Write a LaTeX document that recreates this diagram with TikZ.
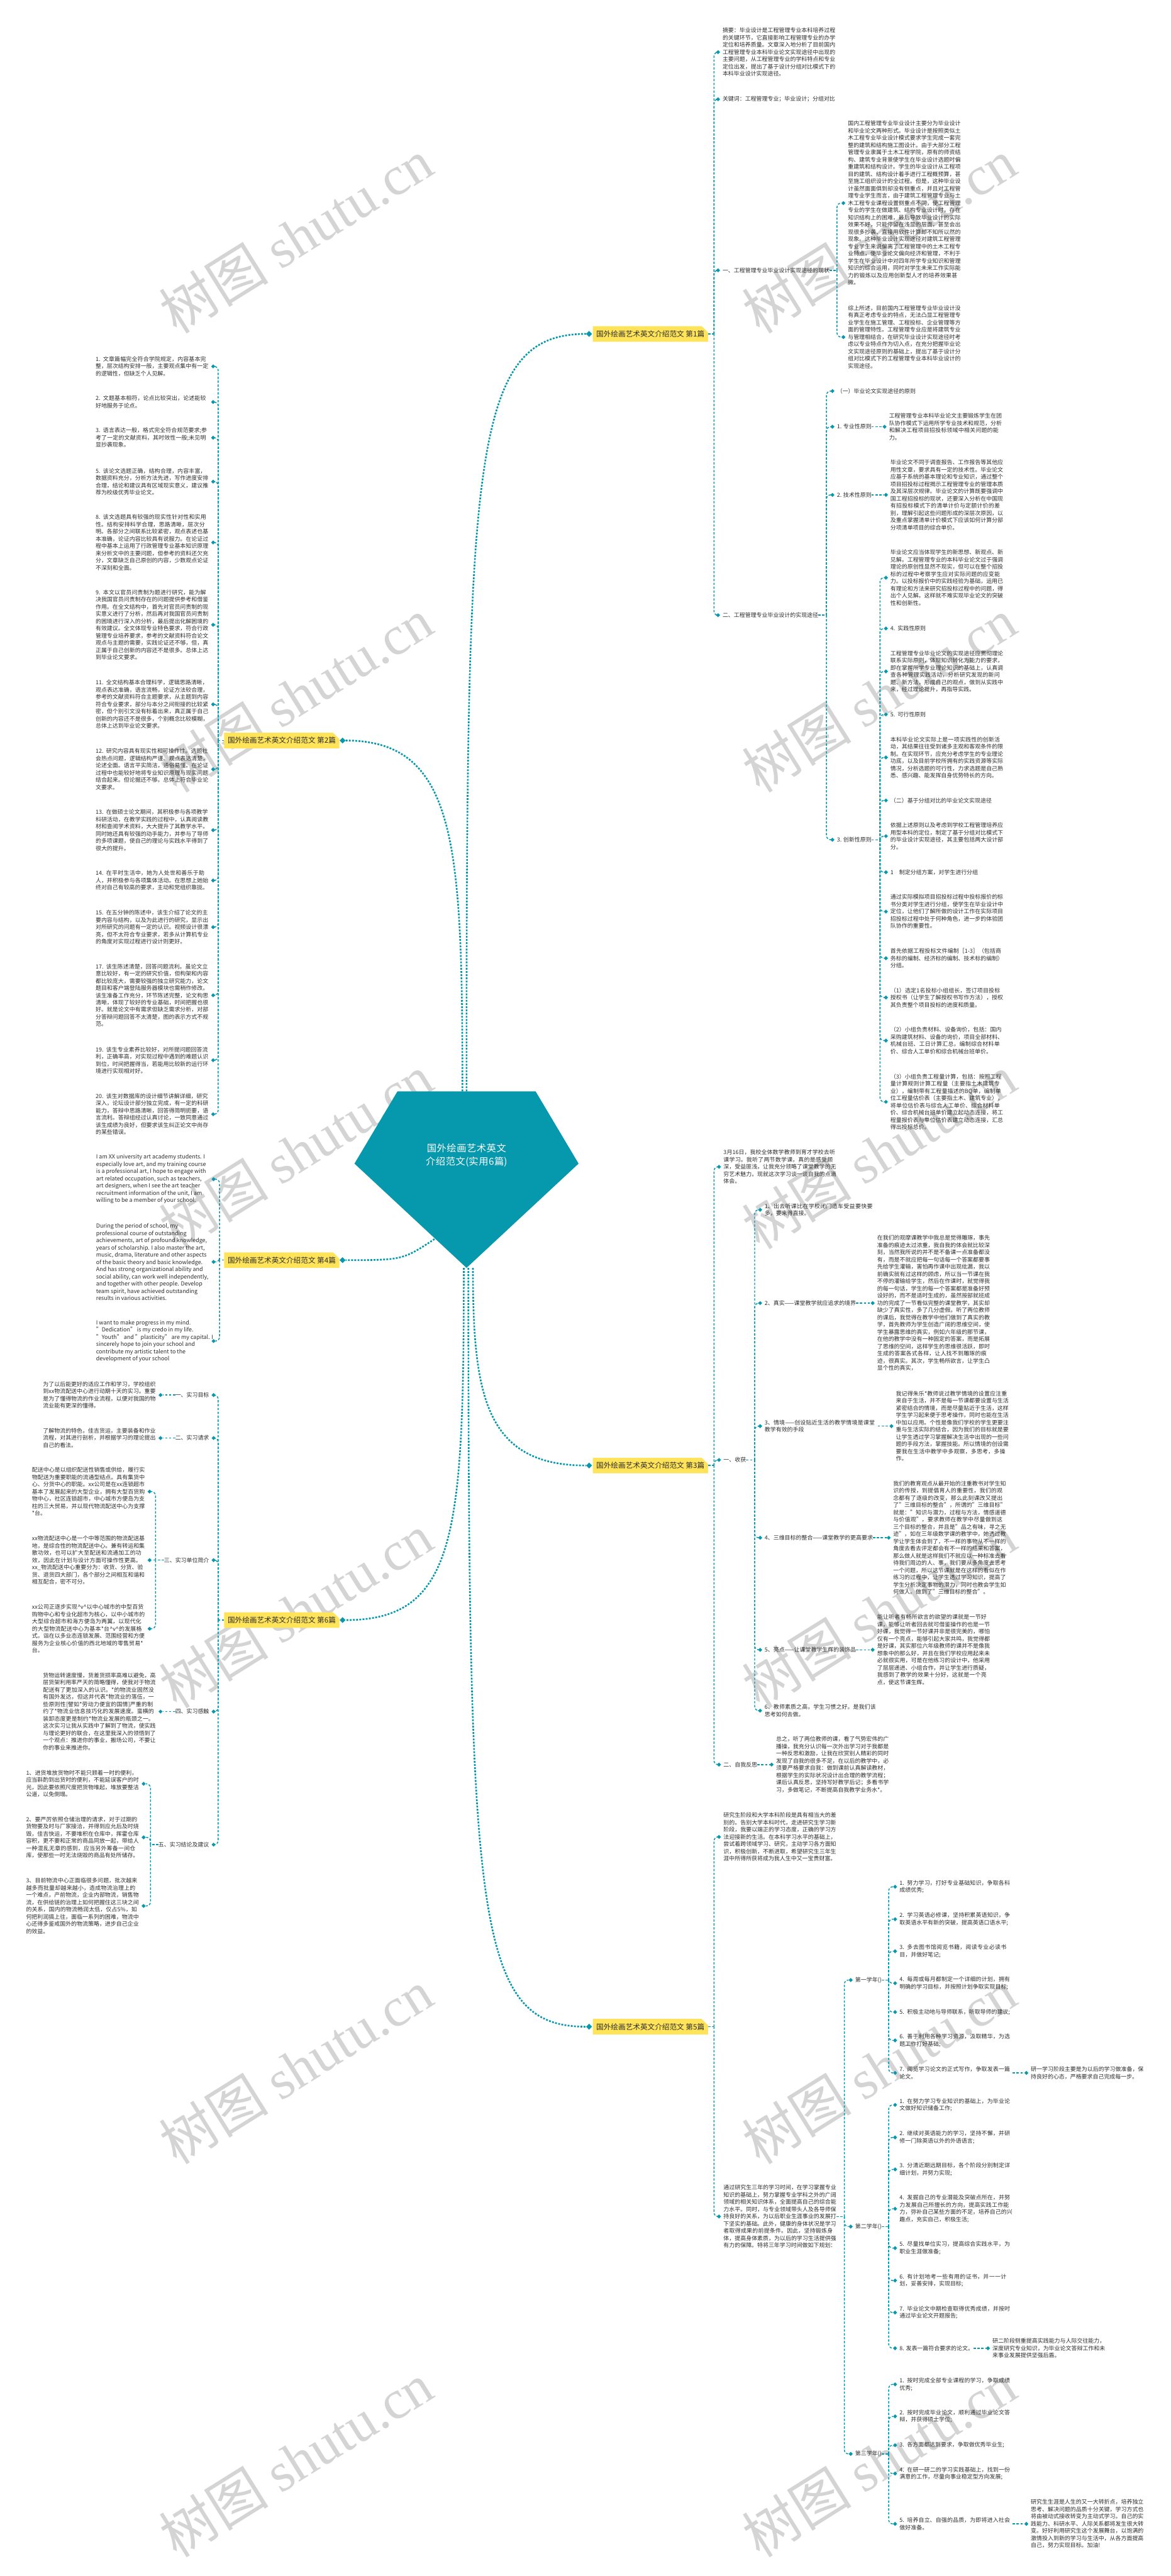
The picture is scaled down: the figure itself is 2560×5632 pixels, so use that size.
\documentclass[tikz,border=0pt]{standalone}
\usepackage{fontspec}
\setmainfont{Noto Sans CJK SC}
\newfontfamily\wmserif{Liberation Serif}
\usetikzlibrary{shapes.misc,shapes.geometric}
\XeTeXlinebreaklocale "zh"
\XeTeXlinebreakskip=0pt plus 1pt
\definecolor{tealc}{RGB}{6,152,172}
\definecolor{tagc}{RGB}{255,228,90}
\definecolor{txtc}{RGB}{45,45,45}
\newcommand\txtfont{\fontsize{12.3}{15.8}\selectfont}
\tikzset{
  conn/.style={draw=tealc, line width=2pt, dash pattern=on 5pt off 3.5pt, rounded corners=9pt},
  mconn/.style={draw=tealc, line width=3.6pt, dash pattern=on 4pt off 3pt},
  dm/.style={diamond, fill=tealc, inner sep=0pt, minimum width=9pt, minimum height=9pt},
  dmb/.style={diamond, fill=tealc, inner sep=0pt, minimum width=13pt, minimum height=13pt},
  tx/.style={font=\txtfont, text=txtc, inner sep=0pt, align=left, text width=247pt, anchor=west},
  txl/.style={tx, anchor=east},
  lb/.style={font=\txtfont, text=txtc, inner sep=0pt, anchor=west},
  lbl/.style={lb, anchor=east},
  etx/.style={font=\txtfont, text=txtc, inner sep=0pt, align=left, anchor=west},
  tag/.style={chamfered rectangle, chamfered rectangle corners=north east, chamfered rectangle xsep=7pt, chamfered rectangle ysep=7pt, fill=tagc, text=txtc, font=\fontsize{16}{19}\selectfont, minimum width=252pt, minimum height=34pt, inner sep=0pt},
  wm/.style={text=black!17, rotate=32, font=\fontsize{120}{120}\selectfont, inner sep=0pt},
}
\newcommand\nRC[5]{\node[dm] (#1d) at (#2,#3) {};\node[tx] (#1) at ([xshift=5pt]#1d.east) {#5};\draw[conn] (#4) |- (#1d.west);}
\newcommand\nRS[5]{\node[dm] (#1d) at (#2,#3) {};\node[tx] (#1) at ([xshift=5pt]#1d.east) {#5};\draw[conn] (#4) -- (#1d.west);}
\newcommand\nRL[5]{\node[dm] (#1d) at (#2,#3) {};\node[lb] (#1) at ([xshift=5pt]#1d.east) {#5};\draw[conn] (#4) |- (#1d.west);}
\newcommand\nLC[5]{\node[dm] (#1d) at (#2,#3) {};\node[txl] (#1) at ([xshift=-5pt]#1d.west) {#5};\draw[conn] (#4) |- (#1d.east);}
\newcommand\nLS[5]{\node[dm] (#1d) at (#2,#3) {};\node[txl] (#1) at ([xshift=-5pt]#1d.west) {#5};\draw[conn] (#4) -- (#1d.east);}
\newcommand\nLL[5]{\node[dm] (#1d) at (#2,#3) {};\node[lbl] (#1) at ([xshift=-5pt]#1d.west) {#5};\draw[conn] (#4) |- (#1d.east);}
\newcommand\nLE[4]{\node[dm] (#1d) at (467,#2) {};\node[etx] (#1) at (210,#2) {#4};\draw[conn] (#3) |- (#1d.east);}
\begin{document}
\begin{tikzpicture}[x=1pt,y=-1pt]
\fill[white] (0,0) rectangle (2560,5632);
\useasboundingbox (0,0) rectangle (2560,5632);
% watermarks
\foreach \i/\yy in {1/516,2/1520,3/2518,4/3522,5/4519,6/5378}{
  \node[wm] (wl\i) at (647,\yy) {树图 {\wmserif shutu.cn}};
  \node[wm] (wr\i) at (1922,\yy) {树图 {\wmserif shutu.cn}};
}
% root pentagon
\coordinate (ptl) at (869,2386);
\coordinate (ptr) at (1171,2386);
\coordinate (pr) at (1265,2544);
\coordinate (pb) at (1020,2772);
\coordinate (pl) at (775,2544);
\fill[tealc] (ptl) -- (ptr) -- (pr) -- (pb) -- (pl) -- cycle;
\node[font=\fontsize{21}{28}\selectfont, text=white, text width=236pt, align=center, inner sep=0pt] (root) at (1020,2526) {国外绘画艺术英文介绍范文(实用6篇)};
\coordinate (st1) at (1020,2386);
\coordinate (st2) at (1011,2386);
\coordinate (st4) at (950,2709);
\coordinate (st6) at (1014,2772);
\coordinate (st5) at (1024,2772);
\coordinate (st3) at (1034,2772);
% tags
\node[tag] (L1) at (1422,730) {国外绘画艺术英文介绍范文 第1篇};
\node[dmb] (D1) at (1288,730) {};
\node[tag] (L2) at (616,1619) {国外绘画艺术英文介绍范文 第2篇};
\node[dmb] (D2) at (749,1619) {};
\node[tag] (L3) at (1422,3204) {国外绘画艺术英文介绍范文 第3篇};
\node[dmb] (D3) at (1288,3204) {};
\node[tag] (L4) at (616,2755) {国外绘画艺术英文介绍范文 第4篇};
\node[dmb] (D4) at (749,2755) {};
\node[tag] (L5) at (1422,4431) {国外绘画艺术英文介绍范文 第5篇};
\node[dmb] (D5) at (1288,4431) {};
\node[tag] (L6) at (616,3542) {国外绘画艺术英文介绍范文 第6篇};
\node[dmb] (D6) at (749,3542) {};
% main connectors
\draw[mconn] (st1) .. controls (1020,1000) and (1030,730) .. (D1.west);
\draw[mconn] (st2) .. controls (1011,1850) and (1000,1619) .. (D2.east);
\draw[mconn] (st4) .. controls (880,2755) .. (D4.east);
\draw[mconn] (st6) .. controls (1014,3350) and (1000,3542) .. (D6.east);
\draw[mconn] (st3) .. controls (1034,3050) and (1060,3204) .. (D3.west);
\draw[mconn] (st5) .. controls (1024,4200) and (1040,4431) .. (D5.west);
% ===== 第1篇 =====
\coordinate (T1) at (1561,730); \draw[conn] (L1.east) -- (T1);
\nRC{a1}{1570}{114}{T1}{摘要：毕业设计是工程管理专业本科培养过程的关键环节，它直接影响工程管理专业的办学定位和培养质量。文章深入地分析了目前国内工程管理专业本科毕业论文实现途径中出现的主要问题，从工程管理专业的学科特点和专业定位出发，提出了基于设计分组对比模式下的本科毕业设计实现途径。}
\nRL{a2}{1570}{217}{T1}{关键词：工程管理专业；毕业设计；分组对比}
\nRL{a3}{1570}{591}{T1}{一、工程管理专业毕业设计实现途径的现状}
\nRL{a4}{1570}{1345}{T1}{二、工程管理专业毕业设计的实现途径}
\coordinate (Ta3) at (1830,591); \draw[conn] (a3.east) -- (Ta3);
\nRC{b1}{1844}{444}{Ta3}{国内工程管理专业毕业设计主要分为毕业设计和毕业论文两种形式。毕业设计是按照类似土木工程专业毕业设计模式要求学生完成一套完整的建筑和结构施工图设计。由于大部分工程管理专业隶属于土木工程学院，原有的师资结构、建筑专业背景使学生在毕业设计选题时偏重建筑和结构设计。学生的毕业设计从工程项目的建筑、结构设计着手进行工程概预算，甚至施工组织设计的全过程。但是，这种毕业设计虽然面面俱到却没有侧重点，并且对工程管理专业学生而言，由于建筑工程管理专业与土木工程专业课程设置侧重点不同，使工程管理专业的学生在做建筑、结构专业设计时，存在知识结构上的困难，最后导致毕业设计的实际效果不好，只能停留在浅显的层面，甚至会出现很多抄袭、直接用软件计算却不知所以然的现象。这种毕业设计实现途径对建筑工程管理专业学生来说偏离了工程管理中的土木工程专业特点，使毕业论文偏向经济和管理，不利于学生在毕业设计中对四年所学专业知识和管理知识的综合运用，同时对学生未来工作实际能力的锻炼以及应用创新型人才的培养效果甚微。}
\nRC{b2}{1844}{737}{Ta3}{综上所述，目前国内工程管理专业毕业设计没有真正考虑专业的特点，无法凸显工程管理专业学生在施工管理、工程投标、企业管理等方面的管理特性。工程管理专业应是将建筑专业与管理相结合，在研究毕业设计实现途径时考虑以专业特点作为切入点，在充分把握毕业论文实现途径原则的基础上，提出了基于设计分组对比模式下的工程管理专业本科毕业设计的实现途径。}
\coordinate (Ta4) at (1807,1345); \draw[conn] (a4.east) -- (Ta4);
\nRL{c1}{1820}{855}{Ta4}{（一）毕业论文实现途径的原则}
\nRL{c2}{1820}{933}{Ta4}{1. 专业性原则}
\nRL{c3}{1820}{1082}{Ta4}{2. 技术性原则}
\nRL{c4}{1820}{1836}{Ta4}{3. 创新性原则}
\nRS{c2t}{1934}{933}{c2.east}{工程管理专业本科毕业论文主要锻炼学生在团队协作模式下运用所学专业技术和规范，分析和解决工程项目招投标领域中相关问题的能力。}
\nRS{c3t}{1937}{1082}{c3.east}{毕业论文不同于调查报告、工作报告等其他应用性文章，要求具有一定的技术性。毕业论文应基于系统的基本理论和专业知识，通过整个项目招投标过程揭示工程管理专业的管理本质及其深层次规律。毕业论文的计算既要强调中国工程招投标的现状，还要深入分析在中国现有招投标模式下的清单计价与定额计价的差别，理解引起这些问题形成的深层次原因，以及重点掌握清单计价模式下应该如何计算分部分项清单项目的综合单价。}
\coordinate (Tc4) at (1924,1836); \draw[conn] (c4.east) -- (Tc4);
\nRC{e1}{1937}{1263}{Tc4}{毕业论文应当体现学生的新思想、新观点、新见解。工程管理专业的本科毕业论文过于强调理论的原创性显然不现实，但可以在整个招投标的过程中考察学生应对实际问题的应变能力。以投标报价中的实践经验为基础，运用已有理论和方法来研究招投标过程中的问题，得出个人见解。这样就不难实现毕业论文的突破性和创新性。}
\nRL{e2}{1937}{1374}{Tc4}{4.\ \ 实践性原则}
\nRC{e3}{1937}{1468}{Tc4}{工程管理专业毕业论文的实现途径应贯彻理论联系实际原则，体现知识转化为能力的要求，即在掌握所学专业理论知识的基础上，认真调查各种管理实践活动，分析研究发现的新问题、新方法，形成自己的观点，做到从实践中来，经过理论提升，再指导实践。}
\nRL{e4}{1937}{1562}{Tc4}{5.\ \ 可行性原则}
\nRC{e5}{1937}{1656}{Tc4}{本科毕业论文实际上是一项实践性的创新活动，其结果往往受到诸多主观和客观条件的限制。在实现环节，应充分考虑学生的专业理论功底，以及目前学校所拥有的实践资源等实际情况，分析选题的可行性，力求选题是自己熟悉、感兴趣、能发挥自身优势特长的方向。}
\nRL{e6}{1937}{1750}{Tc4}{（二）基于分组对比的毕业论文实现途径}
\nRC{e7}{1937}{1828}{Tc4}{依据上述原则以及考虑到学校工程管理培养应用型本科的定位，制定了基于分组对比模式下的毕业设计实现途径，其主要包括两大设计部分。}
\nRL{e8}{1937}{1907}{Tc4}{1　制定分组方案，对学生进行分组}
\nRC{e9}{1937}{1993}{Tc4}{通过实际模拟项目招投标过程中投标报价的标书分类对学生进行分组，使学生在毕业设计中定位，让他们了解所做的设计工作在实际项目招投标过程中处于何种角色，进一步的体验团队协作的重要性。}
\nRC{e10}{1937}{2095}{Tc4}{首先依据工程投标文件编制［1-3］（包括商务标的编制、经济标的编制、技术标的编制）分组。}
\nRC{e11}{1937}{2181}{Tc4}{（1）选定1名投标小组组长，签订项目投标授权书（让学生了解授权书写作方法），授权其负责整个项目投标的进度和质量。}
\nRC{e12}{1937}{2275}{Tc4}{（2）小组负责材料、设备询价，包括：国内采购建筑材料、设备的询价，项目全部材料、机械台班、工日计算汇总，编制综合材料单价、综合人工单价和综合机械台班单价。}
\nRC{e13}{1937}{2409}{Tc4}{（3）小组负责工程量计算，包括：按照工程量计算规则计算工程量（主要指土木建筑专业），编制带有工程量描述的BQ单，编制单位工程量估价表（主要指土木、建筑专业），将单位估价表与综合人工单价、综合材料单价、综合机械台班单价建立起动态连接，将工程量报价表与单位估价表建立动态连接，汇总得出投标总价。}
% ===== 第3篇 =====
\coordinate (T3) at (1561,3204); \draw[conn] (L3.east) -- (T3);
\nRC{f1}{1572}{2551}{T3}{3月16日，我校全体数学教师到育才学校去听课学习。我听了两节数学课，真的是感受颇深，受益匪浅，让我充分领略了课堂教学的无穷艺术魅力。现就这次学习谈一谈自我的点滴体会。}
\nRL{f2}{1572}{3192}{T3}{一、收获}
\nRL{f3}{1572}{3858}{T3}{二、自我反思}
\coordinate (Tf2) at (1650,3192); \draw[conn] (f2.east) -- (Tf2);
\nRC{g1}{1662}{2645}{Tf2}{1、出去听课比在学校闭门造车受益要快要多，要来得直接。}
\nRL{g2}{1662}{2849}{Tf2}{2、真实——课堂教学就应追求的境界}
\nRC{g3}{1662}{3118}{Tf2}{3、情境——创设贴近生活的教学情境是课堂教学有效的手段}
\nRL{g4}{1662}{3362}{Tf2}{4、三维目标的整合——课堂教学的更高要求}
\nRL{g5}{1662}{3607}{Tf2}{5、亮点——让课堂教学生辉的装饰品}
\nRC{g6}{1662}{3740}{Tf2}{6、教师素质之高，学生习惯之好。是我们该思考如何去做。}
\nRS{g2t}{1908}{2849}{g2.east}{在我们的观摩课教学中我总是觉得雕琢，事先准备的痕迹太过浓重，我自我的体会就比较深刻，当然我所说的并不是不备课一点准备都没有，而是不就应把每一句话每一个答案都要事先给学生灌输，害怕再作课中出现纰漏，我以前确实就有过这样的顾虑，所以当一节课在我不停的灌输给学生，然后在作课时，就觉得我的每一句话，学生的每一个答案都是准备好预设好的，而不是适时生成的，虽然按部就班成功的完成了一节看似完整的课堂教学，其实却缺少了真实性，多了几分虚假。听了两位教师的课后，我觉得在教学中他们做到了真实的教学，首先教师为学生创造广阔的思维空间，使学生暴露思维的真实，例如六年级的那节课，在他的教学中没有一种固定的答案，而是拓展了思维的空间，这样学生的思维很活跃，即时生成的答案各式各样，让人找不到雕琢的痕迹，很真实。其次，学生畅所欲言，让学生凸显个性的真实，}
\nRS{g3t}{1949}{3118}{g3.east}{我记得朱乐*教师说过教学情境的设置应注重来自于生活，并不是每一节课都要设置与生活紧密结合的情境，而是尽量贴近于生活，这样学生学习起来便于思考操作，同时也能在生活中加以应用。个性是像我们学校的学生更要注重与生活实际的结合，因为我们的目标就是要让学生透过学习掌握解决生活中出现的一些问题的手段方法，掌握技能。所以情境的创设需要我在生活中教学中多观察，多思考，多操作。}
\nRS{g4t}{1943}{3362}{g4.east}{我们的教育观点从最开始的注重教书对学生知识的传授，到提倡育人的重要性，我们的观念都有了逐级的改变，那么此刻课改又提出了"三维目标的整合"，所谓的"三维目标"就是："知识与潜力，过程与方法，情感道德与价值观"，要求教师在教学中尽量做到这三个目标的整合，并且是"品之有味，寻之无迹"，如在三年级数学课的教学中，她透过教学让学生体会到了，不一样的事物从不一样的角度去看去评定都会有不一样的结果和答案，那么做人就是这样我们不就应以一种标准去看待我们周边的人、事，我们要从多角度去思考一个问题，所以这节课就是在这样的看似在作练习的过程中，让学生透过学习知识，提高了学生分析决定事物的潜力，同时也教会学生如何做人。做到了"三维目标的整合"。}
\nRS{g5t}{1908}{3607}{g5.east}{能让听者有畅所欲言的欲望的课就是一节好课，能够让听者回去就可借鉴操作的也是一节好课，我觉得一节好课并非是很完美的，哪怕仅有一个亮点，能够引起大家共鸣，我觉得都是好课，其实那位六年级教师的课并不是像我想象中的那么好，并且在我们学校应用起来未必就很实用，可是在他练习的设计中，他采用了层层递进、小组合作，并让学生进行质疑，我感到了教学的效果十分好，这就是一个亮点，使这节课生辉。}
\nRS{f3t}{1687}{3858}{f3.east}{总之，听了两位教师的课，看了气势宏伟的广播操，我充分认识每一次外出学习对于我都是一种反思和激励，让我在欣赏别人精彩的同时发现了自我的很多不足，在以后的教学中，必须要严格要求自我：做到课前认真解读教材，根据学生的实际状况设计出合理的教学流程；课后认真反思，坚持写好教学后记；多看书学习，多做笔记，不断提高自我教学业务水*。}
% ===== 第5篇 =====
\coordinate (T5) at (1561,4431); \draw[conn] (L5.east) -- (T5);
\nRC{p1}{1572}{4016}{T5}{研究生阶段和大学本科阶段是具有相当大的差别的。告别大学本科时代，走进研究生学习新阶段，我要以端正的学习态度，正确的学习方法迎接新的生活。在本科学习水平的基础上，尝试着跨领域学习、研究，主动学习各方面知识，积极创新，不断进取，希望研究生三年生涯中所得所获将成为我人生中又一宝贵财富。}
\nRC{p2}{1572}{4846}{T5}{通过研究生三年的学习时间，在学习掌握专业知识的基础上，努力掌握专业学科之外的广阔领域的相关知识体系，全面提高自己的综合能力水平。同时，与专业领域带头人及各导师保持良好的关系，为以后职业生涯事业的发展打下坚实的基础。此外，健康的身体状况是学习者取得成果的前提条件。因此，坚持锻炼身体，提高身体素质，为以后的学习生活提供强有力的保障。特将三年学习时间做如下规划：}
\coordinate (Tp2) at (1846,4846); \draw[conn] (p2.east) -- (Tp2);
\nRL{q1}{1860}{4329}{Tp2}{第一学年()}
\nRL{q2}{1860}{4868}{Tp2}{第二学年()}
\nRL{q3}{1860}{5365}{Tp2}{第三学年()}
\coordinate (Tq1) at (1943,4329); \draw[conn] (q1.east) -- (Tq1);
\nRC{r1}{1957}{4125}{Tq1}{1. 努力学习，打好专业基础知识，争取各科成绩优秀;}
\nRC{r2}{1957}{4196}{Tq1}{2. 学习英语必修课，坚持积累英语知识，争取英语水平有新的突破，提高英语口语水平;}
\nRC{r3}{1957}{4266}{Tq1}{3. 多去图书馆阅览书籍，阅读专业必读书目，并做好笔记;}
\nRC{r4}{1957}{4336}{Tq1}{4. 每周或每月都制定一个详细的计划，拥有明确的学习目标，并按照计划争取实现目标;}
\nRC{r5}{1957}{4399}{Tq1}{5. 积极主动地与导师联系，听取导师的建议;}
\nRC{r6}{1957}{4461}{Tq1}{6. 善于利用各种学习资源，汲取精华，为选题工作打好基础;}
\nRC{r7}{1957}{4532}{Tq1}{7. 阅览学习论文的正式写作，争取发表一篇论文。}
\nRS{r7t}{2244}{4532}{r7.east}{研一学习阶段主要是为以后的学习做准备，保持良好的心态，严格要求自己完成每一步。}
\coordinate (Tq2) at (1943,4868); \draw[conn] (q2.east) -- (Tq2);
\nRC{s1}{1957}{4602}{Tq2}{1. 在努力学习专业知识的基础上，为毕业论文做好知识储备工作;}
\nRC{s2}{1957}{4673}{Tq2}{2. 继续对英语能力的学习，坚持不懈，并研修一门除英语以外的外语语言;}
\nRC{s3}{1957}{4743}{Tq2}{3. 分清近期远期目标，各个阶段分别制定详细计划，并努力实现;}
\nRC{s4}{1957}{4829}{Tq2}{4. 发掘自己的专业潜能及突破点所在，并努力发展自己所擅长的方向，提高实践工作能力，弥补自己某些方面的不足，培养自己的兴趣点，充实自己，积极生活;}
\nRC{s5}{1957}{4915}{Tq2}{5. 尽量找单位实习，提高综合实践水平，为职业生涯做准备;}
\nRC{s6}{1957}{4986}{Tq2}{6. 有计划地考一些有用的证书，并一一计划，妥善安排，实现目标;}
\nRC{s7}{1957}{5056}{Tq2}{7. 毕业论文中期检查取得优秀成绩，并按时通过毕业论文开题报告;}
\nRL{s8}{1957}{5134}{Tq2}{8. 发表一篇符合要求的论文。}
\nRS{s8t}{2160}{5134}{s8.east}{研二阶段侧重提高实践能力与人际交往能力，深度研究专业知识，为毕业论文答辩工作和未来事业发展提供坚强后盾。}
\coordinate (Tq3) at (1943,5365); \draw[conn] (q3.east) -- (Tq3);
\nRC{t1}{1957}{5213}{Tq3}{1. 按时完成全部专业课程的学习，争取成绩优秀;}
\nRC{t2}{1957}{5283}{Tq3}{2. 按时完成毕业论文，顺利通过毕业论文答辩，并获得硕士学位;}
\nRC{t3}{1957}{5346}{Tq3}{3. 各方面都达到要求，争取做优秀毕业生;}
\nRC{t4}{1957}{5408}{Tq3}{4. 在研一研二的学习实践基础上，找到一份满意的工作，尽量向事业稳定型方向发展;}
\nRC{t5}{1957}{5518}{Tq3}{5. 培养自立、自强的品质，为即将进入社会做好准备。}
\nRS{t5t}{2244}{5518}{t5.east}{研究生生涯是人生的又一大转折点，培养独立思考、解决问题的品质十分关键，学习方式也将由被动式接收转变为主动式学习。自己的实践能力、科研水平、人际关系都将发生很大转变。好好利用研究生这个发展舞台，以饱满的激情投入到新的学习与生活中，从各方面提高自己，努力实现目标。加油!}
% ===== 第2篇 =====
\coordinate (T2) at (477,1619); \draw[conn] (L2.west) -- (T2);
\nLC{u1}{466}{801}{T2}{1. 文章篇幅完全符合学院规定，内容基本完整，层次结构安排一般，主要观点集中有一定的逻辑性，但缺乏个人见解。}
\nLC{u2}{466}{879}{T2}{2. 文题基本相符，论点比较突出，论述能较好地服务于论点。}
\nLC{u3}{466}{957}{T2}{3. 语言表达一般，格式完全符合规范要求;参考了一定的文献资料，其时效性一般;未见明显抄袭现象。}
\nLC{u4}{466}{1053}{T2}{5. 该论文选题正确，结构合理，内容丰富，数据资料充分，分析方法先进，写作进度安排合理，结论和建议具有区域现实意义，建议推荐为校级优秀毕业论文。}
\nLC{u5}{466}{1186}{T2}{8. 该文选题具有较强的现实性针对性和实用性。结构安排科学合理，思路清晰，层次分明。各部分之间联系比较紧密，观点表述也基本准确，论证内容比较具有说服力。在论证过程中基本上运用了行政管理专业基本知识原理来分析文中的主要问题，但参考的资料还欠充分，文章缺乏自己原创的内容，少数观点论证不深刻和全面。}
\nLC{u6}{466}{1366}{T2}{9. 本文以官员问责制为题进行研究，能为解决我国官员问责制存在的问题提供参考和借鉴作用。在全文结构中，首先对官员问责制的现实意义进行了分析，然后再对我国官员问责制的困境进行深入的分析，最后提出化解困境的有效建议。全文体现专业特色要求，符合行政管理专业培养要求，参考的文献资料符合论文观点与主题的需要，实践论证还不够，但，真正属于自己创新的内容还不是很多。总体上达到毕业论文要求。}
\nLC{u7}{466}{1540}{T2}{11. 全文结构基本合理科学，逻辑思路清晰，观点表达准确，语言流畅，论证方法较合理，参考的文献资料符合主题要求，从主题到内容符合专业要求，部分与本分之间衔接的比较紧密，但个别引文没有标着出来，真正属于自己创新的内容还不是很多，个别概念比较模糊，总体上达到毕业论文要求。}
\nLC{u8}{466}{1682}{T2}{12. 研究内容具有现实性和可操作性。选题社会热点问题，逻辑结构严谨。观点表达清楚，论述全面。语言平实简洁，通俗易懂。在论证过程中也能较好地将专业知识原理与现实问题结合起来。但论据还不够。总体上符合毕业论文要求。}
\nLC{u9}{466}{1815}{T2}{13. 在做硕士论文期间，其积极参与各项教学科研活动，在教学实践的过程中，认真阅读教材和查阅学术资料，大大提升了其教学水平。同时她还具有较强的动手能力，并参与了导师的多项课题，使自己的理论与实践水平得到了很大的提升。}
\nLC{u10}{466}{1925}{T2}{14. 在平时生活中，她为人处世和善乐于助人，并积极参与各项集体活动。在思想上她始终对自己有较高的要求，主动和党组织靠拢。}
\nLC{u11}{466}{2027}{T2}{15. 在五分钟的陈述中，该生介绍了论文的主要内容与结构，以及为此进行的研究，显示出对所研究的问题有一定的认识。视频设计很漂亮，但不太符合专业要求，若多从计算机专业的角度对实现过程进行设计则更好。}
\nLC{u12}{466}{2176}{T2}{17. 该生陈述清楚，回答问题流利。虽论文立意比较好，有一定的研究价值，但构架和内容都比较庞大，需要较强的独立研究能力，论文题目和客户端登陆服务器模块也需稍作修改。该生准备工作充分，环节陈述完整，论文构思清晰，体现了较好的专业基础，时间把握也很好。就是论文中有需求但缺乏需求分析，对部分答辩问题回答不太清楚，图的表示方式不规范。}
\nLC{u13}{466}{2318}{T2}{19. 该生专业素养比较好，对所提问题回答流利，正确率高，对实现过程中遇到的难题认识到位，时间把握得当，若能用比较新的运行环境进行实现相对好。}
\nLC{u14}{466}{2436}{T2}{20. 该生对数据库的设计细节讲解详细，研究深入，论坛设计部分独立完成，有一定的科研能力，答辩中思路清晰，回答得简明扼要，语言流利。答辩组经过认真讨论，一致同意通过该生成绩为良好，但要求该生纠正论文中尚存的某些错误。}
% ===== 第4篇 =====
\coordinate (T4) at (480,2755); \draw[conn] (L4.west) -- (T4);
\nLE{E1}{2578}{T4}{I am XX university art academy students. I\\especially love art, and my training course\\is a professional art, I hope to engage with\\ art related occupation, such as teachers,\\art designers, when I see the art teacher\\recruitment information of the unit, I am\\willing to be a member of your school.}
\nLE{E2}{2759}{T4}{During the period of school, my\\professional course of outstanding\\achievements, art of profound knowledge,\\years of scholarship. I also master the art,\\music, drama, literature and other aspects\\ of the basic theory and basic knowledge.\\And has strong organizational ability and\\social ability, can work well independently,\\ and together with other people. Develop\\team spirit, have achieved outstanding\\results in various activities.}
\nLE{E3}{2932}{T4}{I want to make progress in my mind.\\"Dedication" is my credo in my life.\\"Youth" and "plasticity" are my capital. I\\sincerely hope to join your school and\\contribute my artistic talent to the\\development of your school}
% ===== 第6篇 =====
\coordinate (T6) at (477,3542); \draw[conn] (L6.west) -- (T6);
\nLL{v1}{467}{3050}{T6}{一、实习目标}
\nLL{v2}{467}{3144}{T6}{二、实习请求}
\nLL{v3}{467}{3411}{T6}{三、实习单位简介}
\nLL{v4}{467}{3742}{T6}{四、实习感触}
\nLL{v5}{467}{4033}{T6}{五、实习结论及建议}
\nLS{v1t}{351}{3050}{v1.west}{为了以后能更好的适应工作和学习，学校组织到xx物流配送中心进行动期十天的实习。重要是为了懂得物流的作业流程，以便对我国的物流业能有更深的懂得。}
\nLS{v2t}{351}{3144}{v2.west}{了解物流的特色，佳吉货运，主要装备和作业流程，对其进行剖析，并根据学习的理论提出自己的看法。}
\coordinate (Tv3) at (340,3411); \draw[conn] (v3.west) -- (Tv3);
\nLC{w1}{327}{3261}{Tv3}{配送中心是以组织配送性销售或供给，履行实物配送为重要职能的流通型结点。具有集货中心、分货中心的职能。xx公司是在xx连锁超市基本了发展起来的大型企业，拥有大型百货购物中心，社区连锁超市，中心城市方便岛为支柱的三大贸易，并以现代物流配送中心为支撑*台。}
\nLS{w2}{327}{3411}{Tv3}{xx物流配送中心是一个中等范围的物流配送基地，是综合性的物流配送中心。兼有转运和集散功效，也可以扩大至配送和流通加工的功效，因此在计划与设计方面可操作性更高。xx\_物流配送中心重要分为：收货、分货、验货、退货四大部门，各个部分之间相互和谐和相互配合，密不可分。}
\nLC{w3}{327}{3561}{Tv3}{xx公司正逐步实现\textasciicircum v\textasciicircum 以中心城市的中型百货购物中心和专业化超市为核心，以中小城市的大型综合超市和海方便岛为两翼，以现代化的大型物流配送中心为基本*台\textasciicircum v\textasciicircum 的发展格式。诣在以多业态连锁发展、范围经营和方便服务为企业核心价值的西北地域的零售贸易*台。}
\nLS{v4t}{351}{3742}{v4.west}{货物运转速度慢，货差货损率高难以避免，高层货架利用率严天的简略懂得，使我对于物流配送有了更加深入的认识。*的物流业固然没有国外发达，但这并代表*物流业的落伍，一些原则性[譬如*劳动力便宜的国情]严重的制约了*物流业信息技巧化的发展速度。蛮横的装卸态度更是制约*物流业发展的瓶颈之一。这次实习让我从实践中了解到了物流，使实践与理论更好的联合，在这里我深入的领悟到了一个观点：推进你的事业，搬场公司，不要让你的事业来推进你。}
\coordinate (Tv5) at (329,4033); \draw[conn] (v5.west) -- (Tv5);
\nLC{k1}{314}{3900}{Tv5}{1、进货堆放货物时不能只顾着一时的便利，应当斟酌到出货时的便利，不能延误客户的时光，因此要依照尺度把货物堆起，堆放要整洁公道，以免倒塌。}
\nLC{k2}{314}{4017}{Tv5}{2、要严厉依照仓储治理的请求，对于过期的货物要及时与厂家接洽，并得到应允后及时烧毁，佳吉快运，不要堆积在仓库中，挥霍仓库容积，更不要和正常的商品同放一起，带给人一种混乱无章的感到，应当另外筹备一间仓库，使那些一时无法烧毁的商品有处所储存。}
\nLC{k3}{314}{4167}{Tv5}{3、目前物流中心正面临很多问题，批次越来越多而批量却越来越小，造成物流治理上的一个难点，产前物流，企业内部物流，销售物流，在供给链的治理上如何把握住这三块之间的关系，国内的物流畅润太低，仅占5\%，如何把利润搞上往，面临一系列的困难，物流中心还得多鉴戒国外的物流策略，进步自己企业的效益。}
\end{tikzpicture}
\end{document}
